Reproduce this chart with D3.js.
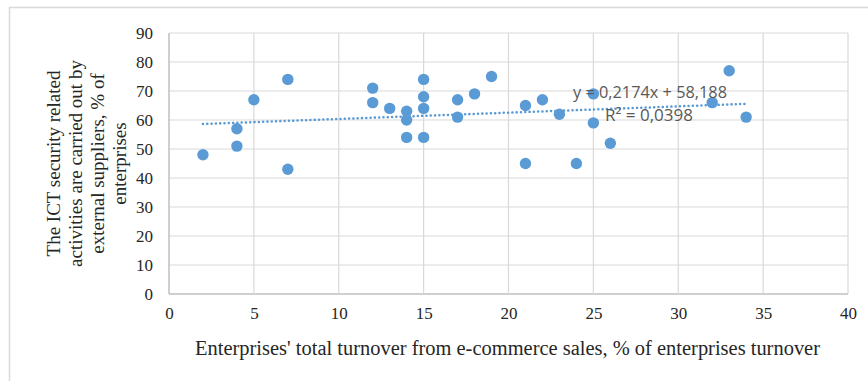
<!DOCTYPE html>
<html>
<head>
<meta charset="utf-8">
<script src="https://cdn.jsdelivr.net/npm/d3@7"></script>
<style>
  html, body { margin: 0; padding: 0; background: #fff; }
  svg { display: block; }
</style>
</head>
<body>
<svg id="chart" width="868" height="381"></svg>
<script>
// ---- data ----
const xValues = [2, 4, 4, 5, 7, 7, 12, 12, 13, 14, 14, 14, 15, 15, 15, 15, 17, 17, 18, 19, 21, 21, 22, 23, 24, 25, 25, 26, 32, 33, 34];
const yValues = [48, 57, 51, 67, 74, 43, 71, 66, 64, 63, 60, 54, 74, 68, 64, 54, 67, 61, 69, 75, 65, 45, 67, 62, 45, 69, 59, 52, 66, 77, 61];
const xTicks = [0, 5, 10, 15, 20, 25, 30, 35, 40];
const yTicks = [0, 10, 20, 30, 40, 50, 60, 70, 80, 90];
const trendSlope = 0.2174;
const trendIntercept = 58.188;
const trendRange = [2, 34];
const equationLabel = "y = 0,2174x + 58,188";
const r2Label = "R² = 0,0398";
const xTitle = "Enterprises' total turnover from e-commerce sales, % of enterprises turnover";
const yTitleLines = ["The ICT security related", "activities are carried out by", "external suppliers, % of", "enterprises"];

// ---- layout ----
const svg = d3.select("#chart");
const pLeft = 169, pRight = 848, pTop = 33, pBottom = 294;
const x = d3.scaleLinear().domain([0, 40]).range([pLeft, pRight]);
const y = d3.scaleLinear().domain([0, 90]).range([pBottom, pTop]);
const blue = "#5B9BD5";
const grid = "#D9D9D9";
const serif = "'Liberation Serif', 'Times New Roman', serif";

// outer frame (only left and top edges are visible)
svg.append("rect")
  .attr("x", 9.5).attr("y", 7.5).attr("width", 900).attr("height", 420)
  .attr("fill", "none").attr("stroke", grid).attr("stroke-width", 1.5);

// gridlines
svg.append("g").selectAll("line").data(yTicks).join("line")
  .attr("x1", pLeft).attr("x2", pRight)
  .attr("y1", d => y(d)).attr("y2", d => y(d))
  .attr("stroke", d => d === 0 ? "#BFBFBF" : grid).attr("stroke-width", d => d === 0 ? 1.5 : 1.2);
svg.append("g").selectAll("line").data(xTicks).join("line")
  .attr("y1", pTop).attr("y2", pBottom)
  .attr("x1", d => x(d)).attr("x2", d => x(d))
  .attr("stroke", d => d === 0 ? "#BFBFBF" : grid).attr("stroke-width", d => d === 0 ? 1.5 : 1.2);

// axes (labels only)
const xAxis = svg.append("g").attr("transform", `translate(0,${pBottom})`)
  .call(d3.axisBottom(x).tickValues(xTicks).tickSize(0).tickPadding(13));
const yAxis = svg.append("g").attr("transform", `translate(${pLeft},0)`)
  .call(d3.axisLeft(y).tickValues(yTicks).tickSize(0).tickPadding(16));
[xAxis, yAxis].forEach(a => {
  a.select(".domain").remove();
  a.selectAll("text").attr("font-family", serif).attr("font-size", 17).attr("fill", "#262626");
});

// trendline (dotted)
svg.append("line")
  .attr("x1", x(trendRange[0])).attr("y1", y(trendSlope * trendRange[0] + trendIntercept))
  .attr("x2", x(trendRange[1])).attr("y2", y(trendSlope * trendRange[1] + trendIntercept))
  .attr("stroke", blue).attr("stroke-width", 2.5)
  .attr("stroke-dasharray", "0.1,4.2").attr("stroke-linecap", "round");

// points
svg.append("g").selectAll("circle").data(xValues.map((v, i) => [v, yValues[i]])).join("circle")
  .attr("cx", d => x(d[0])).attr("cy", d => y(d[1])).attr("r", 5.7)
  .attr("fill", blue);

// equation labels
const eqFont = "'Open Sans', 'Liberation Sans', Arial, sans-serif";
svg.append("text").attr("x", 573).attr("y", 98)
  .attr("font-family", eqFont).attr("font-size", 16.5).attr("fill", "#595959")
  .attr("textLength", 154).attr("lengthAdjust", "spacingAndGlyphs")
  .text(equationLabel);
svg.append("text").attr("x", 605).attr("y", 121)
  .attr("font-family", eqFont).attr("font-size", 16.5).attr("fill", "#595959")
  .attr("textLength", 88).attr("lengthAdjust", "spacingAndGlyphs")
  .text(r2Label);

// x title
svg.append("text").attr("x", 507.5).attr("y", 355)
  .attr("text-anchor", "middle").attr("font-family", serif).attr("font-size", 20)
  .attr("fill", "#262626")
  .attr("textLength", 625).attr("lengthAdjust", "spacingAndGlyphs")
  .text(xTitle);

// y title (rotated, multi-line)
const yCenter = (pTop + pBottom) / 2;
const yTitle = svg.append("g");
yTitleLines.forEach((line, i) => {
  yTitle.append("text")
    .attr("transform", `translate(${60 + i * 22},${yCenter}) rotate(-90)`)
    .attr("text-anchor", "middle").attr("font-family", serif).attr("font-size", 19)
    .attr("fill", "#262626")
    .text(line);
});
</script>
</body>
</html>
